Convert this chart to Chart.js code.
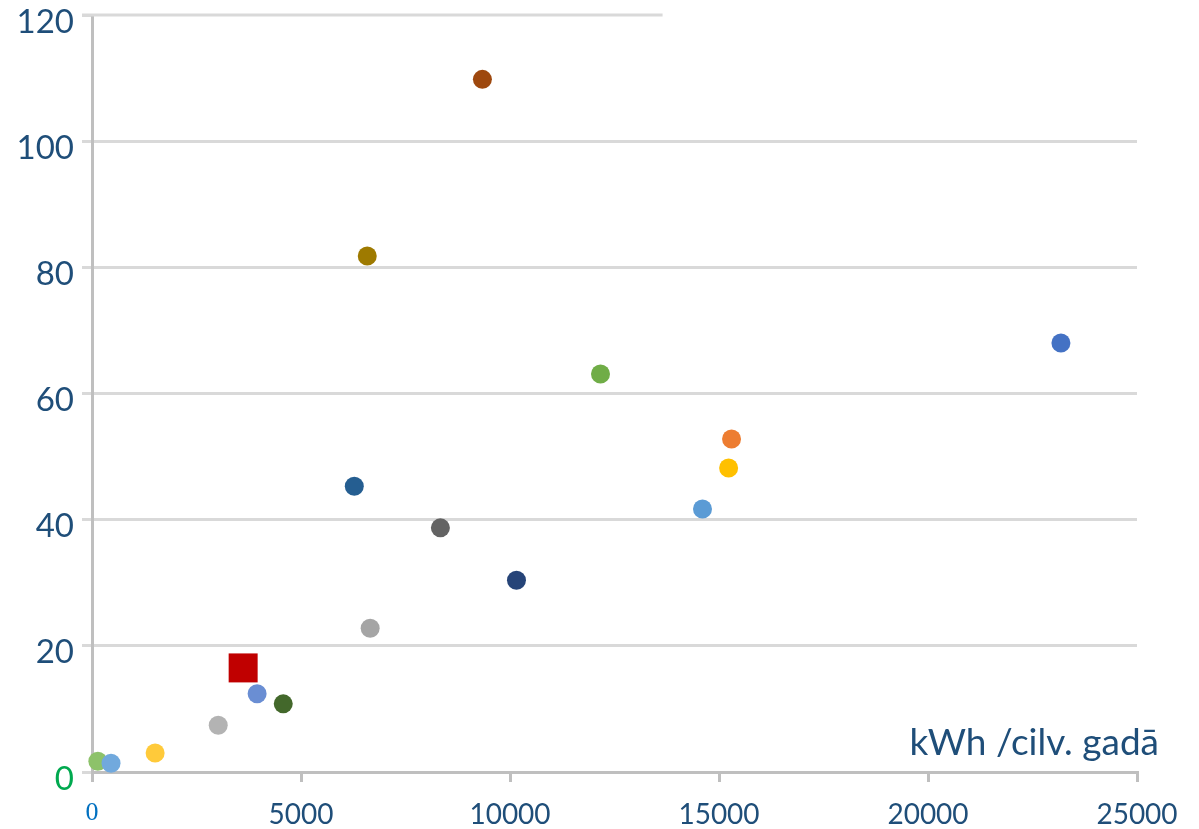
<!DOCTYPE html>
<html>
<head>
<meta charset="utf-8">
<script src="https://cdn.jsdelivr.net/npm/chart.js@4"></script>
<style>
  body { margin: 0; background: #fff; }
  #wrap { width: 1199px; height: 829px; }
</style>
</head>
<body>
<div id="wrap"><canvas id="scatter"></canvas></div>
<script>
// values
const energyUse = [140, 455, 1510, 3020, 3616, 3950, 4575, 6275, 6585, 6655, 8335, 9340, 10155, 12165, 14605, 15230, 15300, 23180];
const yValues = [1.7, 1.4, 3.0, 7.4, 16.5, 12.4, 10.8, 45.3, 81.8, 22.8, 38.7, 109.8, 30.4, 63.1, 41.7, 48.2, 52.8, 68.0];
const pointColors = ['#8DC26A', '#71A9DD', '#FFCA3A', '#B3B3B3', '#C00000', '#6A8ED3', '#43682B', '#255E91', '#9E7A00',
    '#A5A5A5', '#636363', '#9E480E', '#264478', '#70AD47', '#5B9BD5', '#FFC000', '#ED7D31', '#4472C4'];
const highlightIndex = 4; // red square
const xTicks = [0, 5000, 10000, 15000, 20000, 25000];
const yTicks = [0, 20, 40, 60, 80, 100, 120];
const axisTitle = 'kWh /cilv. gadā';
const topGridEnd = 13650; // the 120 line stops short in the original

const points = energyUse.map((x, i) => ({ x: x, y: yValues[i] }));
const navy = '#1F4E79';
const isZero = (c) => c.tick && c.tick.value === 0;

// title above the x axis + the short 120 grid line
const extras = {
    id: 'extras',
    afterDraw(chart) {
        const { ctx, chartArea, scales } = chart;
        ctx.save();
        ctx.strokeStyle = '#D9D9D9';
        ctx.lineWidth = 3;
        const yTop = scales.y.getPixelForValue(120);
        ctx.beginPath();
        ctx.moveTo(chartArea.left - 10, yTop);
        ctx.lineTo(scales.x.getPixelForValue(topGridEnd), yTop);
        ctx.stroke();

        ctx.fillStyle = navy;
        ctx.font = '37px Lato';
        ctx.textAlign = 'right';
        ctx.textBaseline = 'alphabetic';
        ctx.fillText(axisTitle, chartArea.right + 22, chartArea.bottom - 17);
        ctx.restore();
    }
};

new Chart(document.getElementById('scatter'), {
    type: 'scatter',
    data: {
        datasets: [{
            data: points,
            backgroundColor: pointColors,
            borderWidth: 0,
            pointStyle: points.map((p, i) => i === highlightIndex ? 'rect' : 'circle'),
            pointRadius: points.map((p, i) => i === highlightIndex ? 20.5 : 9.5),
            pointHoverRadius: points.map((p, i) => i === highlightIndex ? 20.5 : 9.5),
            clip: false
        }]
    },
    options: {
        responsive: true,
        maintainAspectRatio: false,
        animation: false,
        layout: { autoPadding: false, padding: { top: 15, right: 62, left: 0, bottom: 0 } },
        plugins: { legend: { display: false }, tooltip: { enabled: false } },
        scales: {
            x: {
                type: 'linear',
                min: 0,
                max: 25000,
                afterBuildTicks: (scale) => { scale.ticks = xTicks.map(v => ({ value: v })); },
                afterFit: (scale) => { scale.height = 57; scale.paddingLeft = 0; scale.paddingRight = 0; },
                border: { color: '#BFBFBF', width: 3 },
                grid: { drawOnChartArea: false, tickLength: 10, tickColor: '#BFBFBF', lineWidth: 3 },
                ticks: {
                    padding: 16,
                    color: (c) => isZero(c) ? '#0070C0' : navy,
                    font: (c) => isZero(c) ? { family: 'Liberation Serif', size: 26 } : { family: 'Lato', size: 28 },
                    callback: (v) => String(v)
                }
            },
            y: {
                type: 'linear',
                min: 0,
                max: 120,
                afterBuildTicks: (scale) => { scale.ticks = yTicks.map(v => ({ value: v })); },
                afterFit: (scale) => { scale.width = 92; scale.paddingTop = 0; scale.paddingBottom = 0; },
                border: { color: '#BFBFBF', width: 3 },
                grid: {
                    color: (c) => (c.tick && c.tick.value === 120) ? 'rgba(0,0,0,0)' : '#D9D9D9',
                    lineWidth: 3,
                    tickLength: 10,
                    tickColor: '#D9D9D9'
                },
                ticks: {
                    padding: 8,
                    labelOffset: 7,
                    color: (c) => isZero(c) ? '#00A94F' : navy,
                    font: { family: 'Lato', size: 33 },
                    callback: (v) => String(v)
                }
            }
        }
    },
    plugins: [extras]
});
</script>
</body>
</html>
